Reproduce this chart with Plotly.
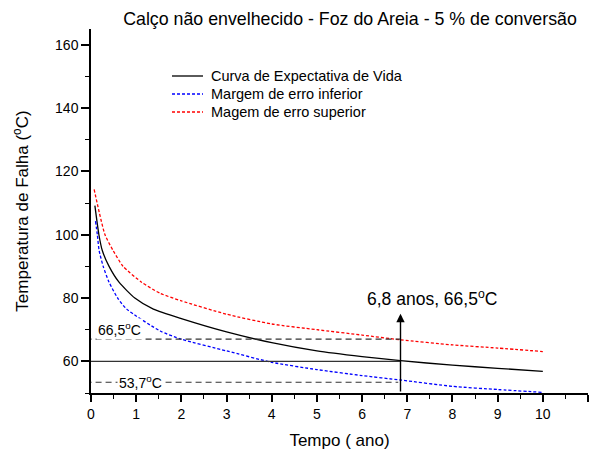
import plotly.graph_objects as go

# Data
x_vida = [0.086, 0.175, 0.25, 0.40, 0.62, 0.97, 1.38, 2, 3, 4, 5, 6, 6.85, 8, 9, 10]
y_vida = [109.2, 100, 95, 90, 85, 80, 76.5, 73.5, 69.3, 65.9, 63.3, 61.5, 60.2, 58.8, 57.8, 56.85]

x_inf = [0.10, 0.14, 0.18, 0.27, 0.40, 0.59, 0.79, 1.53, 2, 3, 4, 5, 6, 6.85, 8, 9, 10]
y_inf = [104.3, 100, 95, 90, 85, 80, 76.5, 69.6, 67.0, 63.3, 59.7, 57.4, 55.5, 54.1, 52.1, 51.1, 50.2]

x_sup = [0.07, 0.31, 0.49, 0.71, 1.12, 1.53, 2, 3, 4, 5, 6, 6.85, 8, 9, 10]
y_sup = [114.3, 100, 95, 90, 85, 81.5, 79.1, 74.9, 71.8, 70.0, 68.3, 66.8, 65.2, 64.2, 63.1]

series_names = ["Curva de Expectativa de Vida", "Margem de erro inferior", "Magem de erro superior"]

ref_x = 6.85
ref_sup = 67.0
ref_vida = 60.0
ref_inf = 53.4
arrow_top = 75.0

x_ticks = list(range(0, 12))
y_ticks = [60, 80, 100, 120, 140, 160]

FONT = "Liberation Sans, Arial, sans-serif"
W, H = 592, 450
ML, MR, MT, MB = 91, 4, 29, 57

styles = [
    dict(color="black", width=1.3),
    dict(color="#0000ff", width=1.3, dash="3px,2px"),
    dict(color="#ff0000", width=1.3, dash="3px,2px"),
]
xs = [x_vida, x_inf, x_sup]
ys = [y_vida, y_inf, y_sup]

fig = go.Figure()
for name, x, y, st in zip(series_names, xs, ys, styles):
    fig.add_trace(go.Scatter(x=x, y=y, mode="lines", name=name, showlegend=False,
                             line=dict(shape="spline", smoothing=0.6, **st)))

# legend drawn as line samples + text (paper coordinates)
pw, ph = W - ML - MR, H - MT - MB
def px2paper(px, py):
    return (px - ML) / pw, 1 - (py - MT) / ph
for i, (name, st) in enumerate(zip(series_names, styles)):
    rowy = 76 + 18 * i
    x0, yy = px2paper(172, rowy)
    x1, _ = px2paper(203, rowy)
    xt, _ = px2paper(209, rowy)
    fig.add_shape(type="line", xref="paper", yref="paper", x0=x0, x1=x1, y0=yy, y1=yy, line=st)
    fig.add_annotation(x=xt, y=yy, xref="paper", yref="paper", xanchor="left", yanchor="middle",
                       showarrow=False, text=name, font=dict(family=FONT, size=14.5, color="black"))

# reference lines
fig.add_shape(type="line", xref="x", yref="y", x0=-0.12, x1=ref_x, y0=ref_sup, y1=ref_sup,
              line=dict(color="#333333", width=1.2, dash="6px,4px"))
fig.add_shape(type="line", xref="x", yref="y", x0=0, x1=ref_x, y0=ref_vida, y1=ref_vida,
              line=dict(color="#333333", width=1.3))
fig.add_shape(type="line", xref="x", yref="y", x0=-0.12, x1=ref_x - 0.05, y0=ref_inf, y1=ref_inf,
              line=dict(color="#333333", width=1.2, dash="6px,4px"))

# arrow
fig.add_annotation(x=ref_x, y=arrow_top, ax=ref_x, ay=50, xref="x", yref="y", axref="x", ayref="y",
                   showarrow=True, arrowhead=2, arrowsize=1.2, arrowwidth=1.4, arrowcolor="black", text="")
fig.add_annotation(x=7.55, y=80.0, xref="x", yref="y", showarrow=False,
                   text="6,8 anos, 66,5<sup>o</sup>C", font=dict(family=FONT, size=17.5, color="black"))
fig.add_annotation(x=0.1, y=70.3, xref="x", yref="y", showarrow=False, xanchor="left",
                   text="66,5<sup>o</sup>C", font=dict(family=FONT, size=14, color="black"),
                   bgcolor="white")
fig.add_annotation(x=0.57, y=53.6, xref="x", yref="y", showarrow=False, xanchor="left",
                   text="53,7<sup>o</sup>C", font=dict(family=FONT, size=14, color="black"),
                   bgcolor="white", borderpad=1)

fig.update_layout(
    width=W, height=H,
    margin=dict(l=ML, r=MR, t=MT, b=MB, autoexpand=False),
    paper_bgcolor="white", plot_bgcolor="white",
    font=dict(family=FONT, color="black"),
    title=dict(text="Calço não envelhecido - Foz do Areia - 5 % de conversão",
               x=350 / W, xanchor="center", xref="container",
               y=1 - 19 / H, yanchor="middle", yref="container",
               font=dict(family=FONT, size=17.8, color="black")),
    showlegend=False,
    xaxis=dict(range=[0, 11], tickvals=x_ticks, ticktext=[str(v) for v in x_ticks],
               automargin=False,
               showgrid=False, zeroline=False, showline=True, linecolor="black", linewidth=1.5,
               ticks="outside", ticklen=7, tickwidth=1.5, tickcolor="black",
               tickfont=dict(family=FONT, size=14, color="black"),
               minor=dict(dtick=0.5, tick0=0, ticks="outside", ticklen=4, tickwidth=1.2, tickcolor="black"),
               title=dict(text="Tempo ( ano)", font=dict(family=FONT, size=17, color="black"), standoff=14)),
    yaxis=dict(range=[50, 165], tickvals=y_ticks, ticktext=[str(v) for v in y_ticks],
               automargin=False,
               showgrid=False, zeroline=False, showline=True, linecolor="black", linewidth=1.5,
               ticks="outside", ticklen=8, tickwidth=1.5, tickcolor="black",
               tickfont=dict(family=FONT, size=14, color="black"),
               minor=dict(dtick=10, tick0=0, ticks="outside", ticklen=4.5, tickwidth=1.2, tickcolor="black"),
               title=dict(text="Temperatura de Falha (<sup>o</sup>C)", font=dict(family=FONT, size=17, color="black"),
                          standoff=22)),
)

fig.write_html("out.html", config={"displayModeBar": False},
               post_script="document.body.style.margin='0';")
